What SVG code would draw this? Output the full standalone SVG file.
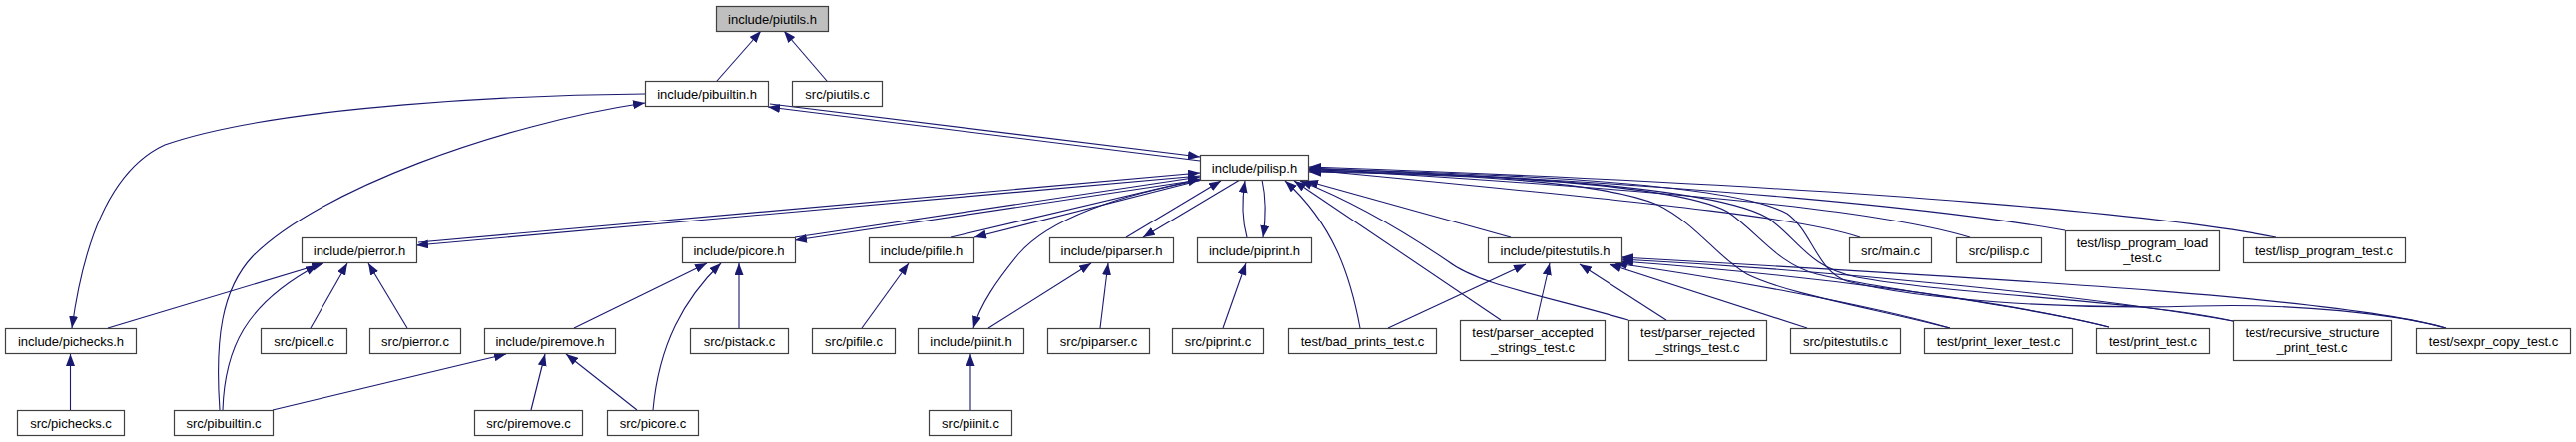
<svg xmlns="http://www.w3.org/2000/svg" width="2580" height="443" viewBox="0 0 2580 443">
<defs>
<marker id="ah" markerUnits="userSpaceOnUse" markerWidth="12" markerHeight="9" refX="12" refY="4.5" orient="auto" viewBox="0 0 12 9"><path d="M0,0 L12,4.5 L0,9 z" fill="#191970"/></marker>
<style>
.n rect{fill:#fff;stroke:#404040;stroke-width:1.2}
.n text{font-family:"Liberation Sans",Arial,sans-serif;font-size:13px;text-anchor:middle;fill:#000}
#n_piutils_h rect{fill:#bfbfbf}
.e path{fill:none;stroke:#191970;stroke-width:1.1;marker-end:url(#ah)}
</style>
</defs>
<rect width="2580" height="443" fill="#fff"/>
<g id="edges" class="e">
<path d="M718,81 L762,31"/>
<path d="M828,81 L785,31"/>
<path d="M771,104 L1202,157"/>
<path d="M1202,161 L769,107"/>
<path d="M646,94 C530,95 280,105 165,145 C100,175 80,270 72,329"/>
<path d="M220,411 C215,340 222,290 253,257 C320,190 500,125 646,103"/>
<path d="M419,243 L1202,173"/>
<path d="M1202,176 L417,246"/>
<path d="M796,238 L1202,177"/>
<path d="M1202,180 L796,241"/>
<path d="M952,238 L1202,179"/>
<path d="M1204,180 L976,238"/>
<path d="M1205,180 C1120,195 1050,220 1020,255 C998,282 982,305 975,329"/>
<path d="M1128,238 L1223,181"/>
<path d="M1242,180 L1145,238"/>
<path d="M1249,238 C1244,220 1244,200 1247,181"/>
<path d="M1264,180 C1268,198 1268,218 1265,238"/>
<path d="M1513,238 L1308,181"/>
<path d="M1362,329 C1352,275 1335,225 1287,181"/>
<path d="M1503,321 L1296,181"/>
<path d="M1631,321 C1540,295 1480,285 1450,262 C1400,228 1350,200 1302,181"/>
<path d="M1863,238 C1810,220 1700,207 1311,170"/>
<path d="M1973,238 C1900,216 1750,195 1311,169"/>
<path d="M2068,231 C1950,210 1700,184 1311,168"/>
<path d="M2280,238 C2180,218 1900,188 1311,167"/>
<path d="M1953,329 C1880,310 1790,295 1750,275 C1720,258 1700,225 1660,205 C1600,180 1450,174 1311,172"/>
<path d="M2112,328 C2020,305 1880,290 1820,275 C1780,265 1760,232 1730,212 C1680,185 1500,175 1311,171"/>
<path d="M2236,322 C2150,302 1950,295 1860,278 C1810,268 1800,238 1770,218 C1720,190 1550,176 1311,170"/>
<path d="M2450,329 C2400,315 2300,304 2200,307 C2060,311 1920,300 1850,282 C1820,272 1815,232 1790,214 C1740,186 1550,175 1311,169"/>
<path d="M1810,329 L1612,265"/>
<path d="M1953,329 C1870,305 1720,278 1618,264"/>
<path d="M2112,328 C2000,300 1800,275 1624,262"/>
<path d="M2236,322 C2100,298 1850,272 1624,260"/>
<path d="M2450,329 C2350,300 2050,282 1624,258"/>
<path d="M1390,329 L1528,265"/>
<path d="M1539,321 L1552,264"/>
<path d="M1669,321 L1582,265"/>
<path d="M108,329 L324,264"/>
<path d="M223,411 C225,350 245,305 318,266"/>
<path d="M311,329 L348,264"/>
<path d="M408,329 L369,264"/>
<path d="M70.5,411 L70.5,355"/>
<path d="M575,329 L708,264"/>
<path d="M654,411 C660,345 685,300 722,264"/>
<path d="M740,329 L740,264"/>
<path d="M273,411 L507,355"/>
<path d="M532,411 L546,355"/>
<path d="M638,411 L567,355"/>
<path d="M863,329 L910,264"/>
<path d="M990,329 L1093,264"/>
<path d="M1102,329 L1110,264"/>
<path d="M972,411 L972,355"/>
<path d="M1225,329 L1248,264"/>
</g>
<g id="n_piutils_h" class="n"><rect x="717.5" y="6.5" width="112" height="25"/><text x="773.5" y="23.5">include/piutils.h</text></g>
<g id="n_pibuiltin_h" class="n"><rect x="646.5" y="81.5" width="123" height="25"/><text x="708" y="98.5">include/pibuiltin.h</text></g>
<g id="n_piutils_c" class="n"><rect x="793.5" y="81.5" width="90" height="25"/><text x="838.5" y="98.5">src/piutils.c</text></g>
<g id="n_pilisp_h" class="n"><rect x="1202.5" y="155.5" width="108" height="25"/><text x="1256.5" y="172.5">include/pilisp.h</text></g>
<g id="n_pierror_h" class="n"><rect x="302.5" y="238.5" width="115" height="25"/><text x="360" y="255.5">include/pierror.h</text></g>
<g id="n_picore_h" class="n"><rect x="683.5" y="238.5" width="113" height="25"/><text x="740" y="255.5">include/picore.h</text></g>
<g id="n_pifile_h" class="n"><rect x="870.5" y="238.5" width="105" height="25"/><text x="923" y="255.5">include/pifile.h</text></g>
<g id="n_piparser_h" class="n"><rect x="1051.5" y="238.5" width="124" height="25"/><text x="1113.5" y="255.5">include/piparser.h</text></g>
<g id="n_piprint_h" class="n"><rect x="1199.5" y="238.5" width="114" height="25"/><text x="1256.5" y="255.5">include/piprint.h</text></g>
<g id="n_pitestutils_h" class="n"><rect x="1490.5" y="238.5" width="134" height="25"/><text x="1557.5" y="255.5">include/pitestutils.h</text></g>
<g id="n_main_c" class="n"><rect x="1852.5" y="238.5" width="82" height="25"/><text x="1893.5" y="255.5">src/main.c</text></g>
<g id="n_pilisp_c" class="n"><rect x="1959.5" y="238.5" width="85" height="25"/><text x="2002" y="255.5">src/pilisp.c</text></g>
<g id="n_lisp_program_load_test_c" class="n"><rect x="2068.5" y="231.5" width="154" height="40"/><text x="2145.5" y="247.5">test/lisp_program_load</text><text x="2145.5" y="262.5">_test.c</text></g>
<g id="n_lisp_program_test_c" class="n"><rect x="2246.5" y="238.5" width="163" height="25"/><text x="2328" y="255.5">test/lisp_program_test.c</text></g>
<g id="n_pichecks_h" class="n"><rect x="5.5" y="329.5" width="131" height="25"/><text x="71" y="346.5">include/pichecks.h</text></g>
<g id="n_picell_c" class="n"><rect x="261.5" y="329.5" width="86" height="25"/><text x="304.5" y="346.5">src/picell.c</text></g>
<g id="n_pierror_c" class="n"><rect x="370.5" y="329.5" width="91" height="25"/><text x="416" y="346.5">src/pierror.c</text></g>
<g id="n_piremove_h" class="n"><rect x="485.5" y="329.5" width="131" height="25"/><text x="551" y="346.5">include/piremove.h</text></g>
<g id="n_pistack_c" class="n"><rect x="691.5" y="329.5" width="98" height="25"/><text x="740.5" y="346.5">src/pistack.c</text></g>
<g id="n_pifile_c" class="n"><rect x="813.5" y="329.5" width="83" height="25"/><text x="855" y="346.5">src/pifile.c</text></g>
<g id="n_piinit_h" class="n"><rect x="919.5" y="329.5" width="106" height="25"/><text x="972.5" y="346.5">include/piinit.h</text></g>
<g id="n_piparser_c" class="n"><rect x="1049.5" y="329.5" width="102" height="25"/><text x="1100.5" y="346.5">src/piparser.c</text></g>
<g id="n_piprint_c" class="n"><rect x="1174.5" y="329.5" width="91" height="25"/><text x="1220" y="346.5">src/piprint.c</text></g>
<g id="n_bad_prints_test_c" class="n"><rect x="1290.5" y="329.5" width="148" height="25"/><text x="1364.5" y="346.5">test/bad_prints_test.c</text></g>
<g id="n_parser_accepted_strings_test_c" class="n"><rect x="1462.5" y="321.5" width="145" height="40"/><text x="1535" y="337.5">test/parser_accepted</text><text x="1535" y="352.5">_strings_test.c</text></g>
<g id="n_parser_rejected_strings_test_c" class="n"><rect x="1631.5" y="321.5" width="138" height="40"/><text x="1700.5" y="337.5">test/parser_rejected</text><text x="1700.5" y="352.5">_strings_test.c</text></g>
<g id="n_pitestutils_c" class="n"><rect x="1793.5" y="329.5" width="110" height="25"/><text x="1848.5" y="346.5">src/pitestutils.c</text></g>
<g id="n_print_lexer_test_c" class="n"><rect x="1927.5" y="329.5" width="148" height="25"/><text x="2001.5" y="346.5">test/print_lexer_test.c</text></g>
<g id="n_print_test_c" class="n"><rect x="2099.5" y="329.5" width="113" height="25"/><text x="2156" y="346.5">test/print_test.c</text></g>
<g id="n_recursive_structure_print_test_c" class="n"><rect x="2236.5" y="321.5" width="159" height="40"/><text x="2316" y="337.5">test/recursive_structure</text><text x="2316" y="352.5">_print_test.c</text></g>
<g id="n_sexpr_copy_test_c" class="n"><rect x="2420.5" y="329.5" width="154" height="25"/><text x="2497.5" y="346.5">test/sexpr_copy_test.c</text></g>
<g id="n_pichecks_c" class="n"><rect x="17.5" y="411.5" width="107" height="25"/><text x="71" y="428.5">src/pichecks.c</text></g>
<g id="n_pibuiltin_c" class="n"><rect x="174.5" y="411.5" width="99" height="25"/><text x="224" y="428.5">src/pibuiltin.c</text></g>
<g id="n_piremove_c" class="n"><rect x="475.5" y="411.5" width="108" height="25"/><text x="529.5" y="428.5">src/piremove.c</text></g>
<g id="n_picore_c" class="n"><rect x="608.5" y="411.5" width="91" height="25"/><text x="654" y="428.5">src/picore.c</text></g>
<g id="n_piinit_c" class="n"><rect x="930.5" y="411.5" width="83" height="25"/><text x="972" y="428.5">src/piinit.c</text></g>
</svg>
